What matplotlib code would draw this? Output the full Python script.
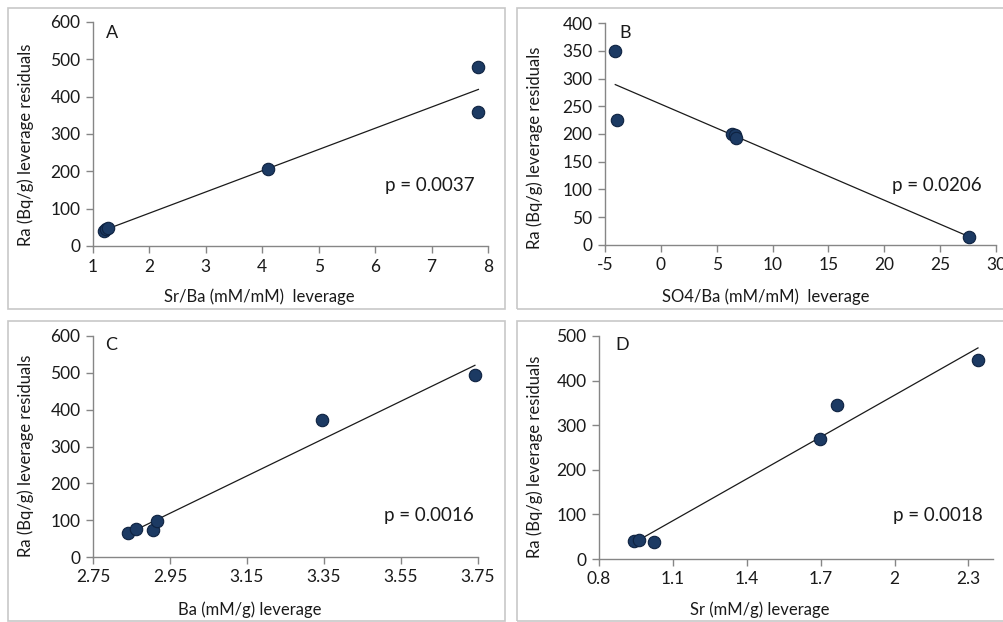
import numpy as np
import matplotlib
matplotlib.use("Agg")
import matplotlib.pyplot as plt
from matplotlib.patches import Rectangle

plt.rcParams['font.family'] = ['Lato', 'DejaVu Sans']
plt.rcParams['axes.unicode_minus'] = False

# ---- data ----
a_x = [1.20, 1.23, 1.26, 4.10, 7.83, 7.83]
a_y = [41, 45, 47, 207, 480, 359]
b_x = [-4.08, -3.93, 6.34, 6.60, 6.70, 27.6]
b_y = [350, 226, 200, 199, 193, 15]
c_x = [2.84, 2.862, 2.907, 2.916, 3.345, 3.742]
c_y = [66, 75, 72, 97, 372, 493]
d_x = [0.943, 0.961, 1.024, 1.697, 1.766, 2.339]
d_y = [40, 43, 37, 269, 346, 446]

letters = ["A", "B", "C", "D"]
p_labels = ["p = 0.0037", "p = 0.0206", "p = 0.0016", "p = 0.0018"]
x_labels = ["Sr/Ba (mM/mM)  leverage", "SO4/Ba (mM/mM)  leverage",
            "Ba (mM/g) leverage", "Sr (mM/g) leverage"]
y_label = "Ra (Bq/g) leverage residuals"
a_xticks = [1, 2, 3, 4, 5, 6, 7, 8]
b_xticks = [-5, 0, 5, 10, 15, 20, 25, 30]
c_xticks = [2.75, 2.95, 3.15, 3.35, 3.55, 3.75]
c_xticklabels = ["2.75", "2.95", "3.15", "3.35", "3.55", "3.75"]
d_xticks = [0.8, 1.1, 1.4, 1.7, 2.0, 2.3]
d_xticklabels = ["0.8", "1.1", "1.4", "1.7", "2", "2.3"]
a_yticks = [0, 100, 200, 300, 400, 500, 600]
b_yticks = [0, 50, 100, 150, 200, 250, 300, 350, 400]
c_yticks = [0, 100, 200, 300, 400, 500, 600]
d_yticks = [0, 100, 200, 300, 400, 500]

W, H = 1004, 622
fig = plt.figure(figsize=(W / 100, H / 100), dpi=100)

def fx(px):
    return px / W

def fy(py):
    return 1 - py / H

# panel borders (pixel boxes)
for (x0, y0, x1, y1) in [(8, 8, 505, 309), (517, 8, 1010, 309),
                         (8, 321, 505, 621), (517, 321, 1010, 621)]:
    fig.patches.append(Rectangle((fx(x0), fy(y1)), fx(x1 - x0), (y1 - y0) / H,
                                 transform=fig.transFigure, fill=False,
                                 edgecolor='#c8c8c8', linewidth=1.2))

# axes pixel boxes: left, right, top, bottom
boxes = [(93, 488, 22, 246), (605, 996, 23, 245),
         (93, 478, 336, 557), (599, 993, 336, 559)]
xs = [a_x, b_x, c_x, d_x]
ys = [a_y, b_y, c_y, d_y]
xlims = [(1, 8), (-5, 30), (2.75, 3.75), (0.8, 2.4)]
ylims = [(0, 600), (0, 400), (0, 600), (0, 500)]
xticks = [a_xticks, b_xticks, c_xticks, d_xticks]
xticklabels = [None, None, c_xticklabels, d_xticklabels]
yticks = [a_yticks, b_yticks, c_yticks, d_yticks]
letter_pos = [(0.048, 0.95), (0.051, 0.955), (0.047, 0.96), (0.058, 0.96)]
p_pos = [(0.853, 0.272), (0.849, 0.27), (0.872, 0.186), (0.859, 0.193)]
xl_pos = [(0.42, -0.228), (0.41, -0.234), (0.408, -0.24), (0.407, -0.229)]
yl_pos = [(-0.17, 0.45), (-0.18, 0.44), (-0.174, 0.457), (-0.162, 0.459)]

txt = '#1a1a1a'
spine = '#868686'

for i in range(4):
    l, r, t, b = boxes[i]
    ax = fig.add_axes([fx(l), fy(b), fx(r - l), (b - t) / H])
    x = np.array(xs[i], dtype=float)
    y = np.array(ys[i], dtype=float)
    slope, icpt = np.polyfit(x, y, 1)
    xx = np.array([x.min(), x.max()])
    ax.plot(xx, slope * xx + icpt, color='#1a1a1a', linewidth=0.9, zorder=2)
    ax.scatter(x, y, s=80, color='#1c3a63', edgecolor='#0e2240',
               linewidth=0.8, zorder=3, clip_on=False)
    ax.set_xlim(*xlims[i])
    ax.set_ylim(*ylims[i])
    ax.set_xticks(xticks[i])
    if xticklabels[i] is not None:
        ax.set_xticklabels(xticklabels[i])
    ax.set_yticks(yticks[i])
    for s in ['top', 'right']:
        ax.spines[s].set_visible(False)
    for s in ['left', 'bottom']:
        ax.spines[s].set_color(spine)
        ax.spines[s].set_linewidth(1.0)
    ax.tick_params(axis='both', colors=spine, labelcolor=txt, labelsize=12.5,
                   length=5, width=1.0, direction='out', pad=4)
    ax.set_facecolor('none')
    ax.text(*letter_pos[i], letters[i], transform=ax.transAxes, fontsize=13,
            color=txt, ha='center', va='center')
    ax.text(*p_pos[i], p_labels[i], transform=ax.transAxes, fontsize=13.5,
            color=txt, ha='center', va='center')
    ax.set_xlabel(x_labels[i], fontsize=12, color=txt)
    ax.xaxis.set_label_coords(*xl_pos[i])
    ax.xaxis.label.set_va('center')
    ax.set_ylabel(y_label, fontsize=12, color=txt)
    ax.yaxis.set_label_coords(*yl_pos[i])
    ax.yaxis.label.set_va('center')

fig.savefig('out.png', dpi=100)
